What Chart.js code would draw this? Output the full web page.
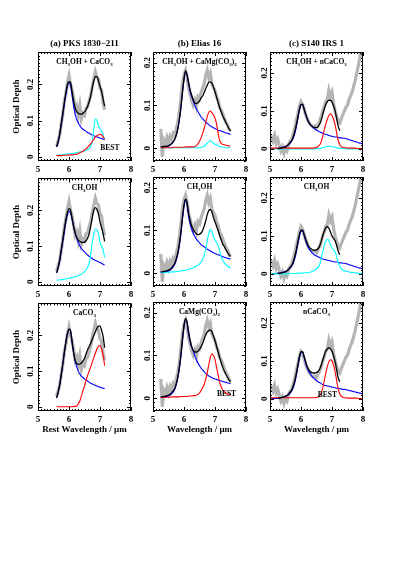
<!DOCTYPE html>
<html>
<head>
<meta charset="utf-8">
<script src="https://cdn.jsdelivr.net/npm/chart.js@4.4.0/dist/chart.umd.min.js"></script>
<style>
  body { margin: 0; background: #fff; }
  #page { position: relative; width: 411px; height: 581px; overflow: hidden; background: #fff; }
  #page canvas { position: absolute; }
</style>
</head>
<body>
<div id="page"></div>
<script>
"use strict";

// wavelength grids (micron), one per source
const wlA = [5.60,5.65,5.70,5.75,5.80,5.85,5.90,5.95,6.00,6.05,6.10,6.15,6.20,6.25,6.30,6.35,
  6.40,6.45,6.50,6.55,6.60,6.65,6.70,6.75,6.80,6.85,6.90,6.95,7.00,7.05,7.10,7.15];
const wlB = [5.25,5.30,5.35,5.40,5.45,5.50,5.55,5.60,5.65,5.70,5.75,5.80,5.85,5.90,5.95,6.00,
  6.05,6.10,6.15,6.20,6.25,6.30,6.35,6.40,6.45,6.50,6.55,6.60,6.65,6.70,6.75,6.80,6.85,6.90,
  6.95,7.00,7.05,7.10,7.15,7.20,7.25,7.30,7.35,7.40,7.45,7.50];
const wlC = [5.00,5.05,5.10,5.15,5.20,5.25,5.30,5.35,5.40,5.45,5.50,5.55,5.60,5.65,5.70,5.75,
  5.80,5.85,5.90,5.95,6.00,6.05,6.10,6.15,6.20,6.25,6.30,6.35,6.40,6.45,6.50,6.55,6.60,6.65,
  6.70,6.75,6.80,6.85,6.90,6.95,7.00,7.05,7.10,7.15,7.20,7.25,7.30,7.35,7.40,7.45,7.50,7.55,
  7.60,7.65,7.70,7.75,7.80,7.85,7.90,7.95,8.00];

// observed optical depth (grey)
const grayA = [.030,.045,.060,.090,.118,.155,.175,.205,.225,.200,.185,.160,.130,.140,.115,.142,
  .105,.120,.115,.135,.138,.155,.170,.195,.215,.235,.220,.215,.190,.185,.150,.130];
const grayB = [.045,-.020,.018,.010,.025,.012,.028,.020,.035,.030,.045,.060,.085,.115,.150,.172,
  .182,.165,.140,.125,.110,.100,.112,.098,.120,.115,.130,.140,.150,.170,.182,.165,.175,.150,
  .142,.135,.120,.112,.095,.090,.080,.070,.060,.055,.045,.040];
const grayC = [.025,.030,.020,.035,.015,.025,.010,-.005,.005,-.012,
  .002,-.005,.012,.020,.025,.040,.055,.075,.092,.112,
  .125,.118,.105,.090,.080,.070,.065,.060,.058,.060,
  .055,.065,.072,.085,.100,.110,.125,.130,.155,.140,
  .150,.120,.100,.085,.072,.068,.080,.090,.100,.110,
  .115,.130,.140,.150,.165,.180,.200,.220,.240,.270,
  .290];

// (a) PKS 1830-211
const blackA1 = [.027,.042,.063,.092,.120,.150,.178,.200,.208,.205,.180,.155,.135,.125,.120,.118,
  .118,.120,.124,.130,.140,.152,.168,.190,.210,.222,.222,.210,.195,.180,.160,.140];
const blueA1 = [.027,.040,.060,.088,.115,.145,.172,.195,.206,.198,.170,.140,.118,.103,.093,.086,
  .080,.076,.073,.070,.067,.065,.062,.060,.058,.056,.055,.053,.052,.050,.049,.047];
const cyanA1 = [.004,.004,.005,.005,.006,.006,.007,.007,.008,.008,.009,.009,.010,.011,.012,.013,
  .014,.015,.016,.018,.020,.023,.028,.042,.078,.104,.100,.085,.078,.072,.060,.048];
const redA1 = [.003,.003,.003,.003,.004,.004,.004,.004,.005,.005,.005,.006,.006,.007,.009,.011,
  .013,.015,.018,.022,.026,.031,.036,.042,.048,.054,.058,.061,.062,.060,.055,.048];
const blackA2 = [.025,.040,.062,.090,.118,.148,.175,.195,.205,.200,.178,.155,.137,.125,.117,.113,
  .111,.110,.111,.115,.122,.135,.155,.180,.200,.208,.203,.190,.168,.152,.135,.113];
const blueA2 = [.025,.038,.058,.085,.112,.140,.168,.188,.197,.192,.175,.155,.135,.122,.110,.100,
  .093,.088,.084,.079,.075,.071,.068,.065,.062,.060,.058,.056,.054,.052,.049,.047];
const cyanA2 = [.004,.005,.005,.006,.006,.007,.008,.009,.010,.011,.012,.013,.014,.015,.017,.019,
  .021,.024,.028,.033,.040,.052,.075,.110,.135,.148,.145,.135,.110,.100,.090,.068];
const blackA3 = [.025,.040,.062,.090,.120,.152,.182,.205,.218,.213,.182,.152,.130,.121,.119,.120,
  .123,.128,.136,.148,.160,.169,.178,.189,.200,.210,.220,.226,.227,.215,.197,.166];
const blueA3 = [.025,.040,.062,.090,.120,.152,.182,.205,.218,.212,.180,.150,.128,.112,.100,.092,
  .086,.082,.078,.075,.072,.069,.066,.064,.062,.060,.058,.056,.055,.053,.052,.051];
const redA3 = [.000,.000,.000,.000,.000,.000,.000,.000,.000,.000,.000,.001,.001,.002,.008,.016,
  .030,.045,.058,.073,.088,.100,.112,.125,.138,.150,.162,.170,.172,.162,.145,.115];

// (b) Elias 16
const blackB1 = [.003,.003,.004,.004,.005,.006,.008,.011,.015,.021,.031,.046,.067,.096,.131,.162,
  .181,.172,.153,.136,.124,.113,.106,.104,.106,.110,.117,.122,.130,.139,.147,.154,.155,.152,
  .143,.132,.120,.107,.095,.085,.075,.068,.060,.053,.046,.040];
const blueB1 = [.002,.002,.003,.003,.004,.005,.007,.010,.014,.020,.030,.045,.066,.095,.130,.160,
  .180,.170,.150,.132,.120,.110,.100,.092,.085,.079,.073,.069,.065,.061,.058,.055,.052,.050,
  .048,.046,.044,.042,.041,.040,.039,.037,.036,.035,.034,.032];
const cyanB1 = [.001,.001,.001,.001,.001,.001,.001,.001,.001,.001,.001,.001,.001,.001,.001,.001,
  .001,.001,.001,.001,.001,.001,.001,.001,.001,.001,.002,.003,.005,.008,.012,.016,.017,.015,
  .012,.009,.008,.006,.004,.003,.002,.002,.001,.001,.001,.001];
const redB1 = [.001,.001,.001,.001,.001,.001,.001,.001,.002,.002,.002,.002,.002,.002,.002,.002,
  .003,.003,.003,.003,.003,.003,.004,.006,.010,.016,.024,.034,.046,.060,.074,.084,.087,.083,
  .078,.070,.057,.035,.018,.011,.009,.008,.007,.006,.005,.005];
const blackB2 = [.003,.003,.004,.005,.006,.007,.009,.013,.017,.023,.034,.048,.069,.097,.131,.160,
  .173,.165,.140,.122,.110,.102,.096,.092,.090,.091,.094,.100,.110,.122,.137,.147,.149,.143,
  .130,.120,.110,.100,.088,.078,.068,.062,.055,.049,.043,.039];
const blueB2 = [.002,.002,.003,.003,.004,.005,.007,.010,.014,.020,.030,.044,.064,.092,.125,.155,
  .172,.160,.133,.114,.102,.093,.086,.080,.075,.071,.067,.064,.062,.059,.056,.054,.052,.050,
  .048,.046,.045,.043,.042,.040,.039,.037,.036,.035,.034,.033];
const cyanB2 = [.001,.001,.001,.002,.002,.002,.002,.003,.003,.003,.004,.004,.005,.005,.006,.006,
  .007,.008,.009,.010,.011,.013,.015,.017,.019,.022,.026,.032,.042,.055,.075,.095,.102,.098,
  .085,.078,.072,.065,.052,.038,.030,.024,.020,.017,.014,.012];
const blackB3 = [.003,.003,.004,.005,.006,.007,.009,.013,.017,.023,.034,.050,.072,.102,.138,.170,
  .186,.178,.155,.135,.120,.112,.108,.108,.110,.114,.120,.128,.138,.148,.155,.158,.160,.155,
  .146,.135,.122,.108,.095,.083,.072,.063,.056,.049,.043,.038];
const blueB3 = [.002,.002,.003,.003,.004,.005,.007,.010,.014,.020,.031,.047,.069,.099,.135,.168,
  .185,.175,.148,.132,.120,.110,.099,.090,.082,.076,.070,.066,.062,.058,.055,.052,.050,.048,
  .046,.045,.044,.042,.041,.040,.039,.038,.037,.036,.035,.034];
const redB3 = [.002,.002,.002,.002,.002,.002,.002,.003,.003,.003,.003,.003,.003,.004,.004,.004,
  .004,.004,.005,.005,.005,.006,.006,.007,.009,.012,.018,.024,.032,.044,.060,.078,.095,.104,
  .100,.091,.072,.055,.037,.026,.019,.015,.012,.010,.009,.008];

// (c) S140 IRS 1
const blackC1 = [null,null,null,null,null,.000,.001,.002,.003,.004,
  .005,.008,.012,.017,.022,.032,.046,.064,.085,.105,
  .117,.117,.105,.092,.080,.070,.064,.060,.057,.056,
  .056,.058,.065,.075,.090,.105,.117,.124,.128,.128,
  .123,.113,.100,.080,.060,.048,null,null,null,null,
  null,null,null,null,null,null,null,null,null,null,
  null];
const blueC1 = [.000,.000,.001,.001,.001,.002,.002,.003,.004,.005,
  .006,.008,.011,.015,.020,.028,.040,.058,.080,.102,
  .116,.117,.105,.090,.078,.070,.064,.059,.055,.052,
  .049,.047,.045,.043,.041,.039,.038,.037,.035,.034,
  .033,.032,.031,.031,.030,.029,.029,.028,.028,.027,
  .026,.024,.023,.022,.020,.019,.018,.016,.015,.014,
  .013];
const cyanC1 = [.000,.000,.000,.000,.000,.000,.000,.000,.000,.000,
  .000,.000,.000,.000,.000,.000,.000,.000,.000,.000,
  .000,.000,.000,.000,.000,.000,.000,.000,.000,.000,
  .001,.001,.001,.002,.003,.004,.005,.006,.007,.007,
  .006,.005,.004,.003,.002,.002,.001,.001,.001,.000,
  .000,.000,.000,.000,.000,.000,.000,.000,.000,.000,
  .000];
const redC1 = [.002,.002,.002,.002,.002,.002,.002,.002,.002,.002,
  .002,.002,.002,.002,.002,.002,.002,.002,.002,.002,
  .002,.002,.002,.002,.002,.002,.002,.002,.002,.003,
  .004,.006,.010,.018,.033,.050,.065,.078,.088,.092,
  .088,.078,.064,.042,.022,.011,.006,.004,.003,.003,
  .002,.002,.002,.002,.002,.002,.001,.001,.001,.001,
  .001];
const blackC2 = [null,null,null,null,null,.001,.001,.002,.003,.004,
  .005,.008,.012,.017,.022,.032,.046,.064,.085,.104,
  .115,.115,.104,.092,.080,.072,.067,.064,.063,.062,
  .063,.066,.073,.085,.100,.113,.121,.124,.120,.110,
  .100,.093,.087,.075,.060,.050,null,null,null,null,
  null,null,null,null,null,null,null,null,null,null,
  null];
const blueC2 = [.000,.000,.001,.001,.001,.002,.002,.003,.004,.005,
  .006,.008,.011,.015,.020,.028,.040,.057,.078,.099,
  .112,.113,.101,.087,.075,.067,.061,.056,.052,.049,
  .047,.045,.043,.041,.039,.038,.037,.036,.035,.034,
  .033,.032,.031,.031,.030,.029,.029,.028,.028,.027,
  .026,.024,.023,.022,.020,.019,.018,.016,.015,.014,
  .013];
const cyanC2 = [.000,.000,.000,.000,.000,.000,.000,.000,.000,.000,
  .000,.000,.001,.001,.001,.001,.001,.001,.002,.002,
  .002,.002,.003,.003,.003,.003,.004,.006,.008,.010,
  .013,.017,.024,.040,.058,.075,.086,.091,.088,.077,
  .068,.064,.058,.045,.030,.020,.014,.010,.008,.007,
  .006,.005,.004,.004,.003,.003,.002,.002,.001,.001,
  .001];
const blackC3 = [null,null,null,null,null,.001,.002,.003,.004,.005,
  .007,.009,.013,.018,.024,.034,.048,.067,.090,.112,
  .124,.124,.112,.098,.085,.077,.072,.069,.068,.068,
  .069,.072,.078,.088,.101,.115,.126,.132,.134,.132,
  .125,.113,.098,.076,.055,.045,null,null,null,null,
  null,null,null,null,null,null,null,null,null,null,
  null];
const blueC3 = [.000,.000,.001,.001,.001,.002,.002,.003,.004,.005,
  .006,.008,.011,.015,.021,.030,.043,.062,.085,.108,
  .122,.123,.110,.094,.081,.073,.066,.060,.055,.051,
  .048,.045,.043,.040,.038,.036,.035,.034,.033,.032,
  .031,.030,.029,.028,.028,.027,.026,.025,.025,.024,
  .023,.022,.021,.020,.019,.018,.017,.016,.015,.014,
  .013];
const redC3 = [.003,.003,.003,.003,.003,.003,.003,.003,.003,.003,
  .003,.003,.003,.003,.003,.003,.003,.003,.003,.003,
  .003,.003,.003,.003,.003,.003,.003,.003,.003,.003,
  .004,.005,.008,.015,.028,.048,.068,.085,.098,.103,
  .100,.088,.072,.048,.026,.013,.007,.004,.003,.003,
  .002,.002,.002,.002,.002,.002,.002,.001,.001,.001,
  .001];

const xTicks = [5, 6, 7, 8];

const columns = [
  { wl: wlA, gray: grayA, yMin: -0.012, yMax: 0.29, title: "(a) PKS 1830\u2212211", xTitle: "Rest Wavelength / \u03bcm" },
  { wl: wlB, gray: grayB, yMin: -0.03, yMax: 0.225, title: "(b) Elias 16", xTitle: "Wavelength / \u03bcm" },
  { wl: wlC, gray: grayC, yMin: -0.032, yMax: 0.255, title: "(c) S140 IRS 1", xTitle: "Wavelength / \u03bcm" },
];

const panels = [
  { row: 0, col: 0, black: blackA1, blue: blueA1, cyan: cyanA1, red: redA1, label: "CH_3OH + CaCO_3", best: [7.32, 0.012] },
  { row: 0, col: 1, black: blackB1, blue: blueB1, cyan: cyanB1, red: redB1, label: "CH_3OH + CaMg(CO_3)_2" },
  { row: 0, col: 2, black: blackC1, blue: blueC1, cyan: cyanC1, red: redC1, label: "CH_3OH + nCaCO_3" },
  { row: 1, col: 0, black: blackA2, blue: blueA2, cyan: cyanA2, label: "CH_3OH" },
  { row: 1, col: 1, black: blackB2, blue: blueB2, cyan: cyanB2, label: "CH_3OH" },
  { row: 1, col: 2, black: blackC2, blue: blueC2, cyan: cyanC2, label: "CH_3OH" },
  { row: 2, col: 0, black: blackA3, blue: blueA3, red: redA3, label: "CaCO_3" },
  { row: 2, col: 1, black: blackB3, blue: blueB3, red: redB3, label: "CaMg(CO_3)_2", best: [7.37, 0.0] },
  { row: 2, col: 2, black: blackC3, blue: blueC3, red: redC3, label: "nCaCO_3", best: [6.85, 0.0] },
];

const FONT = "'Liberation Serif', 'DejaVu Serif', serif";
const COL_LEFT = [38, 153, 270];
const ROW_TOP = [52, 177, 302];
const PLOT_W = 93;
const PLOT_H = 109;

// text with "_x" meaning a one character subscript, centred on (x, y)
function drawRich(ctx, text, x, y, size) {
  const parts = [];
  for (let i = 0; i < text.length; i++) {
    if (text[i] === "_") {
      parts.push({ t: text[i + 1], sub: true });
      i++;
    } else if (parts.length && !parts[parts.length - 1].sub) {
      parts[parts.length - 1].t += text[i];
    } else {
      parts.push({ t: text[i], sub: false });
    }
  }
  const big = "bold " + size + "px " + FONT;
  const small = "bold " + Math.round(size * 0.72) + "px " + FONT;
  let w = 0;
  parts.forEach(p => {
    ctx.font = p.sub ? small : big;
    p.w = ctx.measureText(p.t).width;
    w += p.w;
  });
  let cx = x - w / 2;
  ctx.textAlign = "left";
  ctx.textBaseline = "middle";
  parts.forEach(p => {
    ctx.font = p.sub ? small : big;
    ctx.fillText(p.t, cx, p.sub ? y + size * 0.35 : y);
    cx += p.w;
  });
}

const panelDecor = {
  id: "panelDecor",
  afterDraw(chart, args, opts) {
    const { ctx, chartArea: a, scales: { x, y } } = chart;
    ctx.save();
    ctx.strokeStyle = "#000";
    ctx.lineWidth = 1;
    ctx.strokeRect(Math.round(a.left) + 0.5, Math.round(a.top) + 0.5,
      Math.round(a.width) - 1, Math.round(a.height) - 1);
    ctx.beginPath();
    for (let i = 0; i <= 30; i++) {
      const px = Math.round(x.getPixelForValue(5 + i / 10)) + 0.5;
      const len = i % 10 === 0 ? 4 : 2;
      ctx.moveTo(px, a.bottom);
      ctx.lineTo(px, a.bottom - len);
      ctx.moveTo(px, a.top);
      ctx.lineTo(px, a.top + len);
    }
    const j0 = Math.ceil(y.min * 100);
    const j1 = Math.floor(y.max * 100);
    for (let j = j0; j <= j1; j++) {
      const py = Math.round(y.getPixelForValue(j / 100)) + 0.5;
      const len = j % 10 === 0 ? 4 : 2;
      ctx.moveTo(a.left, py);
      ctx.lineTo(a.left + len, py);
      ctx.moveTo(a.right, py);
      ctx.lineTo(a.right - len, py);
    }
    ctx.stroke();
    ctx.fillStyle = "#000";
    const mid = (a.left + a.right) / 2;
    if (opts.title) drawRich(ctx, opts.title, mid, a.top - 8, 9);
    drawRich(ctx, opts.label, mid, a.top + 10, 7.5);
    if (opts.best) {
      drawRich(ctx, "BEST", x.getPixelForValue(opts.best[0]), y.getPixelForValue(opts.best[1]) - 4, 7.5);
    }
    ctx.restore();
  }
};

function line(wl, vals, color, width, smooth) {
  return {
    data: wl.map((w, i) => ({ x: w, y: vals[i] })),
    borderColor: color,
    borderWidth: width,
    pointRadius: 0,
    fill: false,
    tension: 0,
    cubicInterpolationMode: smooth ? "monotone" : "default",
    spanGaps: false,
  };
}

const page = document.getElementById("page");

panels.forEach(p => {
  const c = columns[p.col];
  const padL = p.col === 0 ? 38 : 24;
  const padR = 10;
  const padT = p.row === 0 ? 18 : 6;
  const padB = p.row === 2 ? 27 : 14;
  const canvas = document.createElement("canvas");
  canvas.width = PLOT_W + padL + padR;
  canvas.height = PLOT_H + padT + padB;
  canvas.style.width = canvas.width + "px";
  canvas.style.height = canvas.height + "px";
  canvas.style.left = (COL_LEFT[p.col] - padL) + "px";
  canvas.style.top = (ROW_TOP[p.row] - padT) + "px";
  page.appendChild(canvas);

  // first dataset is drawn on top
  const datasets = [line(c.wl, p.black, "#000000", 1.3, true)];
  if (p.red) datasets.push(line(c.wl, p.red, "#ff0000", 1.1, true));
  if (p.cyan) datasets.push(line(c.wl, p.cyan, "#00ffff", 1.1, true));
  datasets.push(line(c.wl, p.blue, "#0000ff", 1.1, true));
  datasets.push(line(c.wl, c.gray, "#b4b4b4", 3.2, false));

  const tickFont = { family: FONT, size: 9, weight: "bold" };

  new Chart(canvas, {
    type: "line",
    data: { datasets },
    plugins: [panelDecor],
    options: {
      responsive: false,
      animation: false,
      events: [],
      devicePixelRatio: 1,
      layout: { padding: { top: padT, right: padR, left: 0, bottom: 0 } },
      plugins: {
        legend: { display: false },
        tooltip: { enabled: false },
        panelDecor: { title: p.row === 0 ? c.title : null, label: p.label, best: p.best },
      },
      scales: {
        x: {
          type: "linear",
          min: xTicks[0],
          max: xTicks[xTicks.length - 1],
          afterFit: s => { s.height = padB; },
          grid: { display: false, drawTicks: false },
          border: { display: false },
          ticks: { stepSize: 1, padding: 3, color: "#000", font: tickFont },
          title: {
            display: p.row === 2,
            text: c.xTitle,
            color: "#000",
            font: tickFont,
            padding: { top: 0, bottom: 3 },
          },
        },
        y: {
          type: "linear",
          min: c.yMin,
          max: c.yMax,
          afterFit: s => { s.width = padL; },
          grid: { display: false, drawTicks: false },
          border: { display: false },
          ticks: {
            stepSize: 0.1,
            includeBounds: false,
            minRotation: 90,
            maxRotation: 90,
            crossAlign: "center",
            padding: p.col === 0 ? 2 : 0,
            color: "#000",
            font: tickFont,
            callback: v => String(Math.round(v * 10) / 10),
          },
          title: {
            display: p.col === 0,
            text: "Optical Depth",
            color: "#000",
            font: tickFont,
            padding: { top: 11, bottom: 0 },
          },
        },
      },
    },
  });
});
</script>
</body>
</html>
